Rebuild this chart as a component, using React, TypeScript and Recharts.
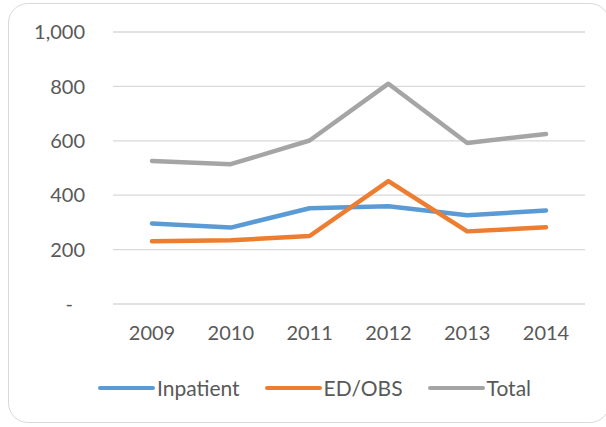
import React from "react";
import { LineChart, Line, XAxis, YAxis, CartesianGrid, Legend } from "recharts";

const years = ["2009", "2010", "2011", "2012", "2013", "2014"];
const inpatient = [296, 281, 352, 359, 326, 344];
const edObs = [231, 234, 250, 452, 267, 282];
const total = [526, 514, 601, 810, 592, 625];
const yTicks = [0, 200, 400, 600, 800, 1000];

const series = [
  { key: "inpatient", name: "Inpatient", color: "#5B9BD5" },
  { key: "edObs", name: "ED/OBS", color: "#ED7D31" },
  { key: "total", name: "Total", color: "#A5A5A5" },
];

const font = "Lato, 'Open Sans', sans-serif";
const textColor = "#595959";

const data = years.map((year, i) => ({
  year,
  inpatient: inpatient[i],
  edObs: edObs[i],
  total: total[i],
}));

// Excel accounting format: zero shows as a dash, thousands with a comma
const YTick = (props: any) => {
  const { x, y, payload } = props;
  const v = payload.value as number;
  const label = v === 0 ? "-" : v.toLocaleString("en-US");
  return (
    <text
      x={v === 0 ? x - 12 : x}
      y={y}
      dy="0.36em"
      textAnchor="end"
      fill={textColor}
      fontSize={20}
      fontFamily={font}
    >
      {label}
    </text>
  );
};

const LegendContent = () => (
  <div style={{ display: "flex", justifyContent: "center", alignItems: "center", fontFamily: font }}>
    {series.map((s, i) => (
      <div key={s.key} style={{ display: "flex", alignItems: "center", marginLeft: i === 0 ? 0 : 25 }}>
        <span
          style={{
            display: "inline-block",
            width: 57,
            height: 4,
            borderRadius: 2,
            background: s.color,
            marginRight: 2,
          }}
        />
        <span style={{ fontSize: 21, color: textColor, lineHeight: "24px" }}>{s.name}</span>
      </div>
    ))}
  </div>
);

export default function App() {
  return (
    <div style={{ position: "absolute", left: 0, top: 0, width: 606, height: 427, overflow: "hidden", background: "#fff" }}>
      <div
        style={{
          position: "absolute",
          left: 8,
          top: 3,
          width: 602,
          height: 420,
          border: "1.5px solid #d9d9d9",
          borderRadius: 20,
          boxSizing: "border-box",
        }}
      />
      <div style={{ position: "absolute", left: 0, top: 0 }}>
        <LineChart width={606} height={427} data={data} margin={{ top: 32, right: 21, left: 0, bottom: 83 }}>
          <CartesianGrid vertical={false} stroke="#d9d9d9" strokeWidth={1.3} />
          <XAxis
            dataKey="year"
            axisLine={false}
            tickLine={false}
            height={40}
            padding={{ left: 39, right: 39 }}
            tickMargin={16}
            tick={{ fill: textColor, fontSize: 20, fontFamily: font }}
          />
          <YAxis
            width={113}
            domain={[0, 1000]}
            ticks={yTicks}
            axisLine={false}
            tickLine={false}
            tickMargin={22}
            tick={<YTick />}
          />
          {series.map((s) => (
            <Line
              key={s.key}
              type="linear"
              dataKey={s.key}
              name={s.name}
              stroke={s.color}
              strokeWidth={4.5}
              strokeLinecap="round"
              strokeLinejoin="round"
              dot={false}
              activeDot={false}
              isAnimationActive={false}
            />
          ))}
          <Legend
            verticalAlign="middle"
            layout="horizontal"
            content={<LegendContent />}
            wrapperStyle={{ top: 376, left: 0, width: 629 }}
          />
        </LineChart>
      </div>
    </div>
  );
}
